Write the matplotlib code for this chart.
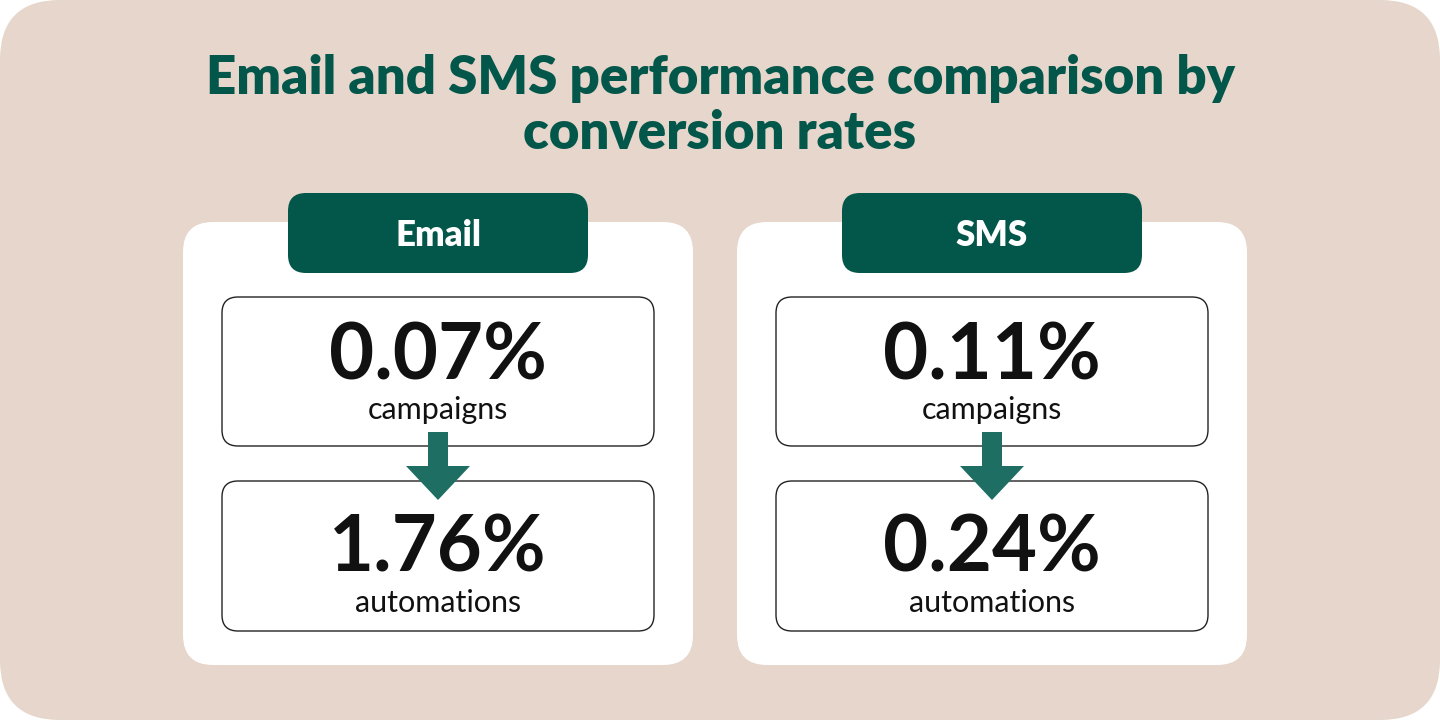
import matplotlib
matplotlib.use("Agg")
import matplotlib.pyplot as plt
from matplotlib.patches import FancyBboxPatch, Polygon

channels = ["Email", "SMS"]
campaign_rates = ["0.07%", "0.11%"]
automation_rates = ["1.76%", "0.24%"]
row_labels = ["campaigns", "automations"]
title = "Email and SMS performance comparison by\nconversion rates"

BG = "#E6D6CB"
GREEN = "#03564A"
ARROW = "#1E6E63"
FONT = ["Lato", "DejaVu Sans"]

fig = plt.figure(figsize=(14.4, 7.2), dpi=100)
ax = fig.add_axes([0, 0, 1, 1])
ax.set_xlim(0, 1440)
ax.set_ylim(720, 0)
ax.axis("off")


def rbox(x0, y0, x1, y1, r, **kw):
    ax.add_patch(FancyBboxPatch((x0 + r, y0 + r), x1 - x0 - 2 * r, y1 - y0 - 2 * r,
                                boxstyle=f"round,pad={r}", **kw))


rbox(0, 0, 1440, 720, 60, facecolor=BG, edgecolor="none")
ax.text(720, 106, title, ha="center", va="center", fontsize=38, fontweight="heavy",
        color=GREEN, family=FONT, linespacing=1.15)

for i, ch in enumerate(channels):
    x0 = 183 + i * 554
    cx = x0 + 255
    rbox(x0, 222, x0 + 510, 665, 30, facecolor="white", edgecolor="none")
    rbox(cx - 150, 193, cx + 150, 273, 18, facecolor=GREEN, edgecolor="none")
    ax.text(cx, 235, ch, ha="center", va="center", fontsize=25, fontweight="heavy",
            color="white", family=FONT)
    for (y0, y1), val, lab, dv, dl in zip([(297, 446), (481, 631)],
                                          [campaign_rates[i], automation_rates[i]], row_labels,
                                          [60, 69], [113, 122]):
        rbox(cx - 216, y0, cx + 216, y1, 16, facecolor="white", edgecolor="#222222", linewidth=1)
        ax.text(cx, y0 + dv, val, ha="center", va="center", fontsize=56, fontweight="bold",
                color="#111111", family=FONT)
        ax.text(cx, y0 + dl, lab, ha="center", va="center", fontsize=22,
                color="#111111", family=FONT)
    ax.add_patch(Polygon([(cx - 10, 432), (cx + 10, 432), (cx + 10, 466), (cx + 32, 466),
                          (cx, 500), (cx - 32, 466), (cx - 10, 466)],
                         closed=True, facecolor=ARROW, edgecolor="none", zorder=5))

fig.savefig("out.png", dpi=100, facecolor="white")
